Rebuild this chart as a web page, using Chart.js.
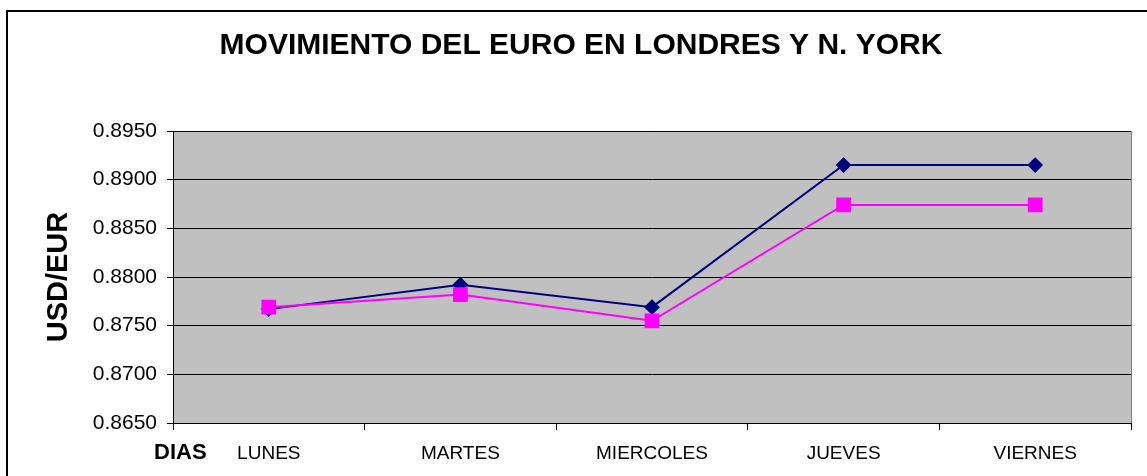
<!DOCTYPE html>
<html>
<head>
<meta charset="utf-8">
<script src="https://cdn.jsdelivr.net/npm/chart.js@4.4.0/dist/chart.umd.min.js"></script>
<style>
  html, body { margin: 0; padding: 0; background: #fff; overflow: hidden; }
  #wrap { position: relative; width: 1147px; height: 476px; }
</style>
</head>
<body>
<div id="wrap"><canvas id="chart" width="1147" height="476"></canvas></div>
<script>
const days = ['LUNES', 'MARTES', 'MIERCOLES', 'JUEVES', 'VIERNES'];
const londres = [0.8767, 0.8792, 0.8769, 0.8915, 0.8915];
const nyork = [0.8769, 0.8782, 0.8755, 0.8874, 0.8874];
const yMin = 0.8650;
const yMax = 0.8950;
const yStep = 0.0050;

const FONT = "'Liberation Sans', Arial, sans-serif";

// grey plot background, outer frame and the "DIAS" label
const decor = {
  id: 'decor',
  beforeDraw(chart) {
    const { ctx, chartArea: a } = chart;
    ctx.save();
    ctx.strokeStyle = '#000';
    ctx.lineWidth = 2;
    ctx.strokeRect(7, 11, 1400, 700);
    ctx.fillStyle = '#c0c0c0';
    ctx.fillRect(a.left, a.top, a.right - a.left, a.bottom - a.top);
    ctx.strokeStyle = '#808080';
    ctx.lineWidth = 1;
    ctx.strokeRect(a.left + 0.5, a.top + 0.5, a.right - a.left, a.bottom - a.top);
    ctx.restore();
  },
  afterDraw(chart) {
    const { ctx } = chart;
    ctx.save();
    ctx.font = 'bold 22px ' + FONT;
    ctx.fillStyle = '#000';
    ctx.textBaseline = 'middle';
    ctx.fillText('DIAS', 154, 453);
    ctx.restore();
  }
};

new Chart(document.getElementById('chart'), {
  type: 'line',
  data: {
    labels: days,
    datasets: [{
      label: 'Londres',
      data: londres,
      borderColor: '#000080',
      backgroundColor: '#000080',
      borderWidth: 2,
      pointStyle: 'rectRot',
      pointRadius: 6.5,
      pointHoverRadius: 6.5,
      order: 1
    },
    {
      label: 'N. York',
      data: nyork,
      borderColor: '#ff00ff',
      backgroundColor: '#ff00ff',
      borderWidth: 2,
      pointStyle: 'rect',
      pointRadius: 9,
      pointHoverRadius: 9,
      order: 0
    }]
  },
  options: {
    responsive: false,
    animation: false,
    layout: { padding: { left: 31, right: 16, top: 0, bottom: 0 } },
    plugins: {
      legend: { display: false },
      tooltip: { enabled: false },
      title: {
        display: true,
        text: 'MOVIMIENTO DEL EURO EN LONDRES Y N. YORK',
        color: '#000',
        font: { family: FONT, size: 30, weight: 'bold', lineHeight: 1.2 },
        padding: { top: 28, bottom: 67 }
      }
    },
    scales: {
      x: {
        offset: true,
        grid: { display: true, drawOnChartArea: false, offset: true, color: '#000', tickLength: 7 },
        border: { color: '#000', width: 1 },
        ticks: { color: '#000', font: { family: FONT, size: 19 }, padding: 12, maxRotation: 0 },
        afterFit(scale) { scale.height = 53; }
      },
      y: {
        min: yMin,
        max: yMax,
        grid: { color: '#000', tickLength: 6 },
        border: { color: '#000', width: 1 },
        ticks: {
          stepSize: yStep,
          color: '#000',
          font: { family: FONT, size: 21 },
          padding: 10,
          callback: (v) => v.toFixed(4)
        },
        title: {
          display: true,
          text: 'USD/EUR',
          color: '#000',
          font: { family: FONT, size: 29, weight: 'bold', lineHeight: 1.2 },
          padding: { top: 11, bottom: 0 }
        },
        afterFit(scale) { scale.width = 142; }
      }
    }
  },
  plugins: [decor]
});
</script>
</body>
</html>
